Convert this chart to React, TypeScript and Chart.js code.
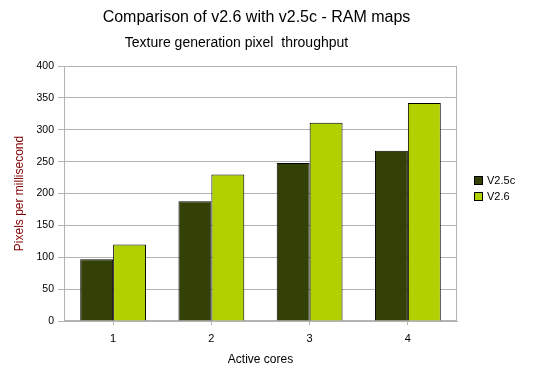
import React, { useEffect, useRef } from "react";
import { Chart, registerables } from "chart.js";

Chart.register(...registerables);

const categories = ["1", "2", "3", "4"];
const seriesNames = ["V2.5c", "V2.6"];
const v25cValues = [97, 188, 248, 267];
const v26Values = [120, 230, 311, 342];
const seriesColors = ["#334006", "#b0d000"];
const titleText = "Comparison of v2.6 with v2.5c - RAM maps";
const subtitleText = "Texture generation pixel  throughput";
const xTitle = "Active cores";
const yTitle = "Pixels per millisecond";

const FONT = '"Liberation Sans", Arial, sans-serif';
const GRID = "#b3b3b3";

const decorPlugin = {
  id: "decor",
  beforeDatasetsDraw(chart: any) {
    const { ctx, chartArea } = chart;
    ctx.save();
    ctx.strokeStyle = GRID;
    ctx.lineWidth = 1;
    ctx.strokeRect(
      Math.round(chartArea.left) + 0.5,
      Math.round(chartArea.top) + 0.5,
      Math.round(chartArea.right - chartArea.left) - 1,
      Math.round(chartArea.bottom - chartArea.top) - 1
    );
    ctx.restore();
  },
  afterDraw(chart: any) {
    const { ctx } = chart;
    ctx.save();
    ctx.fillStyle = "#000";
    ctx.textAlign = "center";
    ctx.textBaseline = "alphabetic";
    ctx.font = `16px ${FONT}`;
    ctx.fillText(titleText, 256.5, 22);
    ctx.font = `14px ${FONT}`;
    ctx.fillText(subtitleText, 236.5, 46.5);

    // legend
    ctx.font = `11px ${FONT}`;
    ctx.textAlign = "left";
    ctx.textBaseline = "middle";
    chart.data.datasets.forEach((ds: any, i: number) => {
      const y = 176 + i * 16;
      ctx.fillStyle = ds.backgroundColor;
      ctx.fillRect(474, y, 9, 9);
      ctx.strokeStyle = "#000";
      ctx.lineWidth = 1;
      ctx.strokeRect(474.5, y + 0.5, 8, 8);
      ctx.fillStyle = "#000";
      ctx.fillText(ds.label, 487, y + 5);
    });
    ctx.restore();
  },
};

export default function App() {
  const ref = useRef<HTMLCanvasElement>(null);

  useEffect(() => {
    if (!ref.current) return;
    const chart = new Chart(ref.current, {
      type: "bar",
      data: {
        labels: categories,
        datasets: [
          {
            label: seriesNames[0],
            data: v25cValues,
            backgroundColor: seriesColors[0],
            borderColor: "#000",
            borderWidth: 1,
            categoryPercentage: 0.67,
            barPercentage: 1,
          },
          {
            label: seriesNames[1],
            data: v26Values,
            backgroundColor: seriesColors[1],
            borderColor: "#000",
            borderWidth: 1,
            categoryPercentage: 0.67,
            barPercentage: 1,
          },
        ],
      },
      options: {
        responsive: false,
        animation: false,
        devicePixelRatio: 1,
        layout: { padding: { top: 66, right: 81, bottom: 0, left: 0 } },
        plugins: {
          legend: { display: false },
          title: { display: false },
          tooltip: { enabled: false },
        },
        scales: {
          x: {
            grid: {
              display: true,
              drawOnChartArea: false,
              offset: false,
              tickLength: 4,
              color: GRID,
            },
            border: { color: GRID },
            ticks: { padding: 7, color: "#000", font: { family: FONT, size: 11 } },
            title: {
              display: true,
              text: xTitle,
              color: "#000",
              font: { family: FONT, size: 12 },
              padding: { top: 0, bottom: 22 },
            },
            afterFit: (s: any) => {
              s.height = 68;
            },
          },
          y: {
            min: 0,
            max: 400,
            grid: { color: GRID, tickLength: 6 },
            border: { color: GRID },
            ticks: {
              stepSize: 50,
              padding: 4,
              color: "#000",
              font: { family: FONT, size: 10.5 },
            },
            title: {
              display: true,
              text: yTitle,
              color: "#800000",
              font: { family: FONT, size: 12 },
              padding: { top: 12, bottom: 0 },
            },
            afterFit: (s: any) => {
              s.width = 64;
            },
          },
        },
      },
      plugins: [decorPlugin],
    });
    return () => chart.destroy();
  }, []);

  return (
    <div style={{ position: "absolute", left: 0, top: 0, width: 538, height: 389, background: "#fff" }}>
      <canvas ref={ref} width={538} height={389} style={{ display: "block" }} />
    </div>
  );
}
